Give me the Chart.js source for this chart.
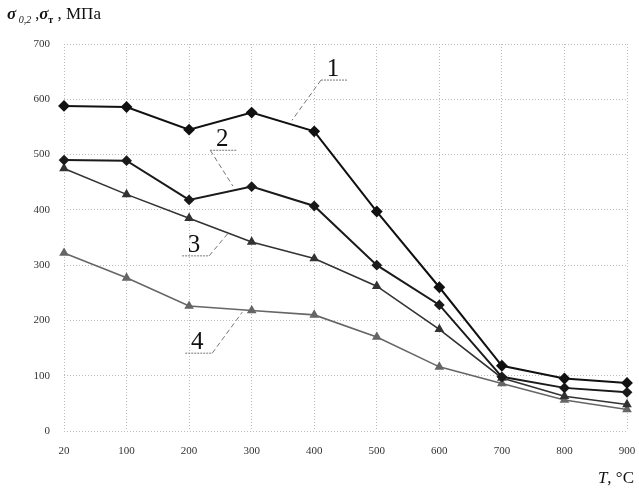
<!DOCTYPE html>
<html>
<head>
<meta charset="utf-8">
<script src="https://cdn.jsdelivr.net/npm/chart.js@4"></script>
<style>
  html, body { margin: 0; padding: 0; background: #fff; }
  #wrap { width: 639px; height: 488px; }
</style>
</head>
<body>
<div id="wrap"><canvas id="chart" width="639" height="488"></canvas></div>
<script>
// temperatures, °C
var temps = ["20", "100", "200", "300", "400", "500", "600", "700", "800", "900"];
// curves 1..4, MPa
var curve1 = [588, 586, 545, 576, 542, 397, 260, 118, 95, 87];
var curve2 = [490, 489, 418, 442, 407, 300, 228, 98, 78, 70];
var curve3 = [475, 428, 385, 342, 312, 262, 184, 96, 63, 48];
var curve4 = [322, 277, 226, 218, 210, 170, 116, 86, 56, 39];
var yTicks = [0, 100, 200, 300, 400, 500, 600, 700];

// callout numbers: text baseline position and the point the leader goes to (category index, MPa)
var callouts = [
    { text: "1", at: [4.30, 642], to: [3.645, 562], side: "left" },
    { text: "2", at: [2.53, 515], to: [2.70, 443], side: "left" },
    { text: "3", at: [2.08, 324], to: [2.64, 360], side: "right" },
    { text: "4", at: [2.13, 148], to: [2.85, 215], side: "right" }
];

var calloutPlugin = {
    id: 'callouts',
    afterDatasetsDraw: function(chart) {
        var ctx = chart.ctx, x = chart.scales.x, y = chart.scales.y;
        ctx.save();
        callouts.forEach(function(c) {
            var tx = x.getPixelForValue(c.at[0]), ty = y.getPixelForValue(c.at[1]);
            ctx.fillStyle = '#111';
            ctx.font = '25px "Liberation Serif"';
            ctx.textAlign = 'center';
            ctx.textBaseline = 'alphabetic';
            ctx.fillText(c.text, tx, ty);
            var uy = ty + 4, ux0 = tx - 12, ux1 = tx + 15;
            ctx.strokeStyle = '#777';
            ctx.lineWidth = 1;
            ctx.setLineDash([2, 1]);
            ctx.beginPath();
            ctx.moveTo(ux0, uy);
            ctx.lineTo(ux1, uy);
            ctx.stroke();
            ctx.setLineDash([5, 3]);
            ctx.beginPath();
            ctx.moveTo(c.side === "left" ? ux0 : ux1, uy);
            ctx.lineTo(x.getPixelForValue(c.to[0]), y.getPixelForValue(c.to[1]));
            ctx.stroke();
        });
        ctx.restore();
    }
};

// axis titles with subscripts
var titlesPlugin = {
    id: 'axisTitles',
    afterDraw: function(chart) {
        var ctx = chart.ctx;
        ctx.save();
        ctx.fillStyle = '#111';
        ctx.textBaseline = 'alphabetic';
        ctx.textAlign = 'left';
        var parts = [
            { t: "σ", f: 'italic bold 17px "Liberation Serif"', dy: 0 },
            { t: " 0,2", f: 'italic 10px "Liberation Serif"', dy: 4 },
            { t: " ,", f: '16px "Liberation Serif"', dy: 0 },
            { t: "σ", f: 'italic bold 17px "Liberation Serif"', dy: 0 },
            { t: "т", f: 'bold 10px "Liberation Serif"', dy: 4 },
            { t: " , МПа", f: '17px "Liberation Serif"', dy: 0 }
        ];
        var px = 7, base = 19;
        parts.forEach(function(p) {
            ctx.font = p.f;
            ctx.fillText(p.t, px, base + p.dy);
            px += ctx.measureText(p.t).width;
        });
        ctx.textAlign = 'right';
        ctx.font = '17px "Liberation Serif"';
        var rest = ", °C";
        ctx.fillText(rest, 634, 483);
        var w = ctx.measureText(rest).width;
        ctx.font = 'italic 17px "Liberation Serif"';
        ctx.fillText("T", 634 - w, 483);
        ctx.restore();
    }
};

new Chart(document.getElementById("chart"), {
    type: 'line',
    data: {
        labels: temps,
        datasets: [{
            label: "1",
            data: curve1,
            borderColor: "#111",
            backgroundColor: "#111",
            borderWidth: 2,
            pointStyle: 'rectRot',
            pointRadius: 4.5
        }, {
            label: "2",
            data: curve2,
            borderColor: "#1a1a1a",
            backgroundColor: "#1a1a1a",
            borderWidth: 2,
            pointStyle: 'rectRot',
            pointRadius: 4
        }, {
            label: "3",
            data: curve3,
            borderColor: "#333",
            backgroundColor: "#333",
            borderWidth: 1.6,
            pointStyle: 'triangle',
            pointRadius: 4
        }, {
            label: "4",
            data: curve4,
            borderColor: "#666",
            backgroundColor: "#666",
            borderWidth: 1.6,
            pointStyle: 'triangle',
            pointRadius: 4
        }]
    },
    options: {
        responsive: false,
        animation: false,
        layout: { padding: { top: 44, right: 12, left: 0, bottom: 0 } },
        plugins: {
            legend: { display: false },
            tooltip: { enabled: false }
        },
        scales: {
            x: {
                offset: false,
                grid: { color: '#bbb', drawTicks: false },
                border: { display: false, dash: [1, 2] },
                ticks: { color: '#333', font: { family: 'Liberation Serif', size: 11 }, padding: 14, maxRotation: 0 },
                afterFit: function(s) {
                    s.height = 57;
                    s.paddingLeft = 0;
                    s.paddingRight = 0;
                }
            },
            y: {
                min: 0,
                max: 700,
                afterBuildTicks: function(s) { s.ticks = yTicks.map(function(v) { return { value: v }; }); },
                grid: { color: '#bbb', drawTicks: false },
                border: { display: false, dash: [1, 2] },
                ticks: { color: '#333', font: { family: 'Liberation Serif', size: 11 }, padding: 14 },
                afterFit: function(s) { s.width = 64; }
            }
        }
    },
    plugins: [calloutPlugin, titlesPlugin]
});
</script>
</body>
</html>
